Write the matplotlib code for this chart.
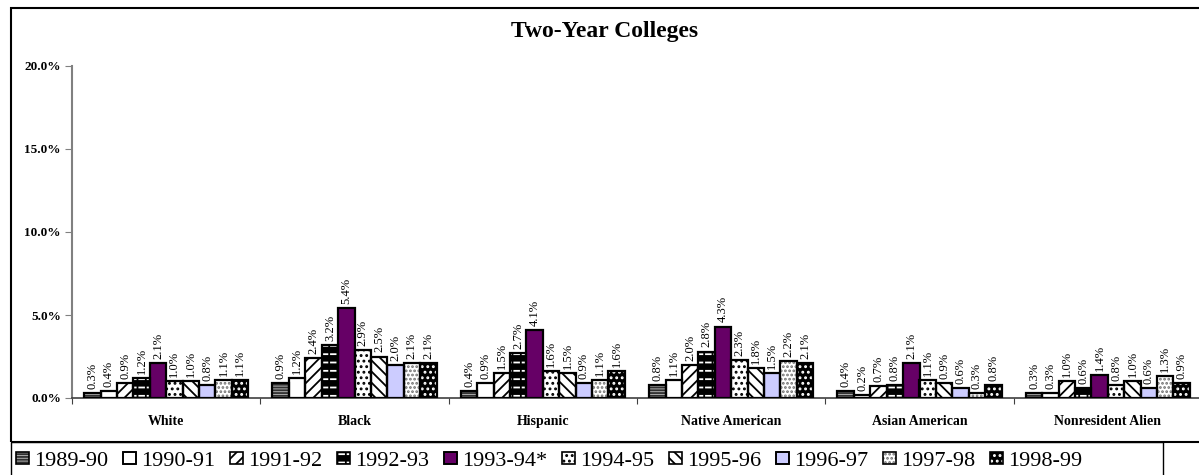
import matplotlib
matplotlib.use("Agg")
import matplotlib.pyplot as plt
from matplotlib.patches import Rectangle, Patch
from matplotlib.legend_handler import HandlerTuple

categories = ["White", "Black", "Hispanic", "Native American", "Asian American", "Nonresident Alien"]
years = ["1989-90", "1990-91", "1991-92", "1992-93", "1993-94*", "1994-95",
         "1995-96", "1996-97", "1997-98", "1998-99"]
white = [0.3, 0.4, 0.9, 1.2, 2.1, 1.0, 1.0, 0.8, 1.1, 1.1]
black = [0.9, 1.2, 2.4, 3.2, 5.4, 2.9, 2.5, 2.0, 2.1, 2.1]
hispanic = [0.4, 0.9, 1.5, 2.7, 4.1, 1.6, 1.5, 0.9, 1.1, 1.6]
native_american = [0.8, 1.1, 2.0, 2.8, 4.3, 2.3, 1.8, 1.5, 2.2, 2.1]
asian_american = [0.4, 0.2, 0.7, 0.8, 2.1, 1.1, 0.9, 0.6, 0.3, 0.8]
nonresident_alien = [0.3, 0.3, 1.0, 0.6, 1.4, 0.8, 1.0, 0.6, 1.3, 0.9]
yticks = [0, 5, 10, 15, 20]

groups = [white, black, hispanic, native_american, asian_american, nonresident_alien]

plt.rcParams['font.family'] = ['Liberation Serif', 'DejaVu Serif']
plt.rcParams['hatch.linewidth'] = 1.3

# style layers per series: list of (facecolor, hatch, hatchcolor)
styles = [
    [("#b0b0b0", "------", "#303030")],
    [("white", None, None)],
    [("white", "///", "black")],
    [("black", "--", "white"), ("none", "||", "black")],
    [("#660066", None, None)],
    [("white", "...", "black")],
    [("white", "\\\\\\", "black")],
    [("#ccccff", None, None)],
    [("white", "....", "#707070")],
    [("black", "...", "white")],
]

W, H = 1199, 475
fig = plt.figure(figsize=(W / 100, H / 100), dpi=100)

ax_left = 72 / W
ax_right = 1202 / W
ax_bottom = 1 - 398 / H
ax_top = 1 - 66 / H
ax = fig.add_axes([ax_left, ax_bottom, ax_right - ax_left, ax_top - ax_bottom])
ax.set_clip_on(False)

n = len(years)
bw = 0.0871
for gi, vals in enumerate(groups):
    for j, v in enumerate(vals):
        x = gi + 0.5 + (j - (n - 1) / 2) * bw
        for fc, hatch, hc in styles[j]:
            if hatch is None:
                ax.bar(x, v, width=bw, color=fc, edgecolor="black", linewidth=0, zorder=2)
            else:
                ax.bar(x, v, width=bw, color=fc, edgecolor=hc, hatch=hatch,
                       linewidth=0, zorder=2)
        ax.bar(x, v, width=bw, fill=False, edgecolor="black", linewidth=1.6, zorder=3)
        ax.text(x, v + 0.25, f"{v:.1f}%", rotation=90, ha="center", va="bottom",
                fontsize=9, zorder=4)

ax.set_xlim(0, 6)
ax.set_ylim(0, 20)
ax.set_yticks(yticks)
ax.set_yticklabels([f"{t:.1f}%" for t in yticks], fontsize=9.5, fontweight="bold")
ax.tick_params(axis="y", direction="out", length=5, color="#808080", pad=3)
ax.set_xticks(range(0, 7))
ax.set_xticklabels([""] * 7)
ax.tick_params(axis="x", which="major", direction="out", length=4, color="#404040")
ax.set_xticks([i + 0.5 for i in range(6)], minor=True)
ax.set_xticklabels(categories, minor=True, fontsize=10, fontweight="bold")
ax.tick_params(axis="x", which="minor", length=0, pad=12)
for s in ["top", "right"]:
    ax.spines[s].set_visible(False)
ax.spines["left"].set_color("#808080")
ax.spines["left"].set_linewidth(1.5)
ax.spines["bottom"].set_color("#404040")
ax.spines["bottom"].set_linewidth(1.2)
ax.set_facecolor("none")

# title
fig.text(605 / W, 1 - 32 / H, "Two-Year Colleges", ha="center", va="center",
         fontsize=17, fontweight="bold")

# outer chart frame
fig.add_artist(Rectangle((11 / W, 1 - 442 / H), 1.2, (442 - 8) / H,
                         transform=fig.transFigure, fill=False,
                         edgecolor="black", linewidth=1.5, clip_on=False))
# legend frame
fig.add_artist(Rectangle((11 / W, -0.1), (1163 - 11) / W, 0.1 + (475 - 442) / H,
                         transform=fig.transFigure, fill=False,
                         edgecolor="black", linewidth=1.0, clip_on=False))

handles = []
for st in styles:
    layers = []
    for fc, hatch, hc in st:
        if hatch is None:
            layers.append(Patch(facecolor=fc, edgecolor="black", linewidth=1.2))
        else:
            layers.append(Patch(facecolor=fc, edgecolor=hc, hatch=hatch, linewidth=0))
    layers.append(Patch(fill=False, edgecolor="black", linewidth=1.2))
    handles.append(tuple(layers))

fig.legend(handles, years, loc="center", bbox_to_anchor=(549 / W, 1 - 461 / H),
           ncol=10, frameon=False, fontsize=16, handlelength=0.6, handleheight=0.45,
           handletextpad=0.2, columnspacing=0.68, borderpad=0,
           handler_map={tuple: HandlerTuple(ndivide=1, pad=0)})

fig.savefig("out.png", dpi=100)
